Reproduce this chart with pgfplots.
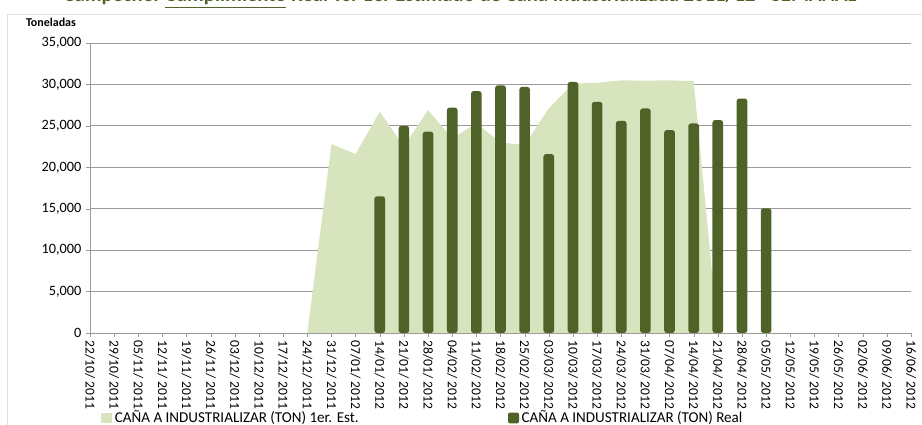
\documentclass[border=0pt]{standalone}
\usepackage{pgfplots}
\pgfplotsset{compat=1.18}
\usepackage{fontspec}
\setmainfont{Carlito}
\definecolor{estc}{HTML}{D7E4BD}
\definecolor{realc}{HTML}{4F6228}
\definecolor{titc}{HTML}{4F6228}
\definecolor{gridc}{HTML}{9A9A9A}
\begin{document}
\begin{tikzpicture}
\useasboundingbox (0,0) rectangle (691.5pt,318.75pt);
\draw[gray!25] (5.25pt,-10pt) rectangle (710pt,308.25pt);
\node[anchor=base, text=titc, font=\fontsize{15.5}{18}\selectfont\bfseries, inner sep=0pt] at (345pt,317.3pt) {Campeche: \underline{Cumplimiento} Real vs. 1er Estimado de Caña Industrializada 2011/12 - SEMANAL};
\node[font=\fontsize{9}{11}\selectfont\bfseries, inner sep=0pt] at (38.25pt,302.25pt) {Toneladas};
\begin{axis}[
  scale only axis, width=615.75pt, height=217.5pt,
  at={(67.5pt,69pt)}, anchor=south west,
  xmin=0, xmax=34, ymin=0, ymax=35000,
  axis lines*=left,
  axis line style={gridc},
  xtick={0,...,34},
  xticklabels={22/10/ 2011,29/10/ 2011,05/11/ 2011,12/11/ 2011,19/11/ 2011,26/11/ 2011,03/12/ 2011,10/12/ 2011,17/12/ 2011,24/12/ 2011,31/12/ 2011,07/01/ 2012,14/01/ 2012,21/01/ 2012,28/01/ 2012,04/02/ 2012,11/02/ 2012,18/02/ 2012,25/02/ 2012,03/03/ 2012,10/03/ 2012,17/03/ 2012,24/03/ 2012,31/03/ 2012,07/04/ 2012,14/04/ 2012,21/04/ 2012,28/04/ 2012,05/05/ 2012,12/05/ 2012,19/05/ 2012,26/05/ 2012,02/06/ 2012,09/06/ 2012,16/06/ 2012},
  ytick={0,5000,...,35000},
  ymajorgrids,
  grid style={gridc, line width=0.6pt},
  tick align=outside, major tick length=3pt,
  tick style={gridc},
  xticklabel style={rotate=-90, anchor=west, font=\fontsize{10.2}{12}\selectfont, inner sep=2.5pt},
  yticklabel style={font=\fontsize{10.7}{12}\selectfont},
  scaled y ticks=false,
  /pgf/number format/1000 sep={,},
  /pgf/number format/assume math mode=true,
  legend style={at={(0.0134,-0.293)}, anchor=west, draw=none, fill=none, inner sep=0pt,
    legend columns=2, font=\fontsize{11.3}{13}\selectfont,
    /tikz/every even column/.append style={column sep=110pt}},
]
\addplot[fill=estc, draw=none,
  legend image code/.code={\fill[estc] (0pt,-4.1pt) rectangle (8.25pt,4.1pt);}]
  coordinates {(0,0)(1,0)(2,0)(3,0)(4,0)(5,0)(6,0)(7,0)(8,0)(9,0)
  (10,22800)(11,21600)(12,26700)(13,22500)(14,26900)(15,23500)(16,25300)(17,23000)(18,22700)(19,27100)
  (20,30100)(21,30200)(22,30500)(23,30450)(24,30500)(25,30400)(26,0)(27,0)(28,0)(29,0)
  (30,0)(31,0)(32,0)(33,0)(34,0)} \closedcycle;
\addlegendentry{CAÑA A INDUSTRIALIZAR (TON) 1er. Est.}
\addplot[ybar, bar width=8pt, bar shift=0pt, fill=realc, draw=none, rounded corners=2pt,
  legend image code/.code={\fill[realc, rounded corners=1.5pt] (0pt,-4.1pt) rectangle (8.25pt,4.1pt);}]
  coordinates {(12,16500)(13,25000)(14,24300)(15,27200)(16,29200)(17,29900)(18,29700)(19,21600)
  (20,30300)(21,27900)(22,25600)(23,27100)(24,24500)(25,25300)(26,25700)(27,28300)(28,15050)};
\addlegendentry{CAÑA A INDUSTRIALIZAR (TON) Real}
\end{axis}
\end{tikzpicture}
\end{document}
